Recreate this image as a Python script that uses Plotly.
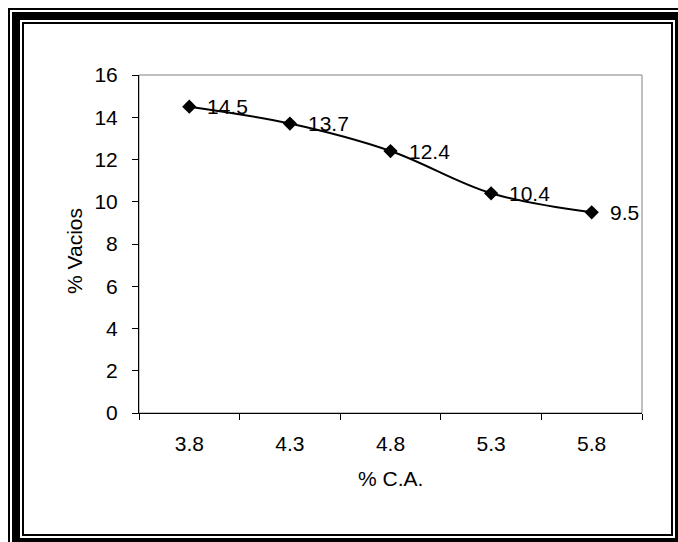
import plotly.graph_objects as go

# Asphalt content (% C.A.) and air voids (% Vacios)
asphalt_content = ["3.8", "4.3", "4.8", "5.3", "5.8"]
air_voids = [14.5, 13.7, 12.4, 10.4, 9.5]
y_ticks = [0, 2, 4, 6, 8, 10, 12, 14, 16]

FONT = "Liberation Sans, Arial, sans-serif"
FS = 21
FIG_W, FIG_H = 678, 542
# plot area in pixels
PL, PR, PT, PB = 139, 642, 75, 413
PW, PH = PR - PL, PB - PT


def px_x(px):
    return (px - PL) / PW


def px_y(py):
    return (PB - py) / PH


fig = go.Figure()
fig.add_trace(go.Scatter(
    x=asphalt_content,
    y=air_voids,
    mode="lines+markers",
    line=dict(color="black", width=2, shape="spline", smoothing=1),
    marker=dict(symbol="diamond", size=11, color="black"),
    cliponaxis=False,
    showlegend=False,
))

# value labels to the right of each point (category axis -> index positions)
annotations = [
    dict(x=i, y=v, xref="x", yref="y", text=f"{v:.1f}", showarrow=False,
         xanchor="left", yanchor="middle", xshift=16,
         font=dict(family=FONT, size=FS, color="black"))
    for i, v in enumerate(air_voids)
]
annotations += [
    dict(text="% Vacios", xref="paper", yref="paper",
         x=px_x(74), y=px_y(251), textangle=-90, showarrow=False,
         xanchor="center", yanchor="middle",
         font=dict(family=FONT, size=FS, color="black")),
    dict(text="% C.A.", xref="paper", yref="paper",
         x=px_x(390), y=px_y(479), showarrow=False,
         xanchor="center", yanchor="middle",
         font=dict(family=FONT, size=FS, color="black")),
]

shapes = [
    # grey plot-area frame
    dict(type="rect", xref="paper", yref="paper", x0=0, x1=1, y0=0, y1=1,
         line=dict(color="#808080", width=1), layer="below"),
]
# triple-line page border: thin, thick, thin (cut by the page at right/bottom)
for inset, width in [(9, 2), (16, 8), (23, 2)]:
    shapes.append(dict(
        type="rect", xref="paper", yref="paper",
        x0=px_x(inset), x1=px_x(FIG_W + 17 - inset),
        y0=px_y(FIG_H + 16 - inset), y1=px_y(inset),
        line=dict(color="black", width=width), fillcolor="rgba(0,0,0,0)",
    ))

fig.update_layout(
    width=FIG_W, height=FIG_H,
    margin=dict(l=PL, r=FIG_W - PR, t=PT, b=FIG_H - PB),
    paper_bgcolor="white", plot_bgcolor="white",
    font=dict(family=FONT, size=FS, color="black"),
    shapes=shapes,
    annotations=annotations,
)

fig.update_xaxes(
    type="category", categoryorder="array", categoryarray=asphalt_content,
    range=[-0.5, 4.5], tickson="boundaries",
    ticks="outside", ticklen=6, tickcolor="black", tickwidth=1,
    showline=True, linecolor="black", linewidth=1,
    showgrid=False, zeroline=False,
    ticklabelstandoff=12,
    tickfont=dict(family=FONT, size=FS, color="black"),
)
fig.update_yaxes(
    range=[0, 16], tickvals=y_ticks,
    ticks="outside", ticklen=6, tickcolor="black", tickwidth=1,
    showline=True, linecolor="black", linewidth=1,
    showgrid=False, zeroline=False,
    ticklabelstandoff=10,
    tickfont=dict(family=FONT, size=FS, color="black"),
)

fig.write_html("out.html")
